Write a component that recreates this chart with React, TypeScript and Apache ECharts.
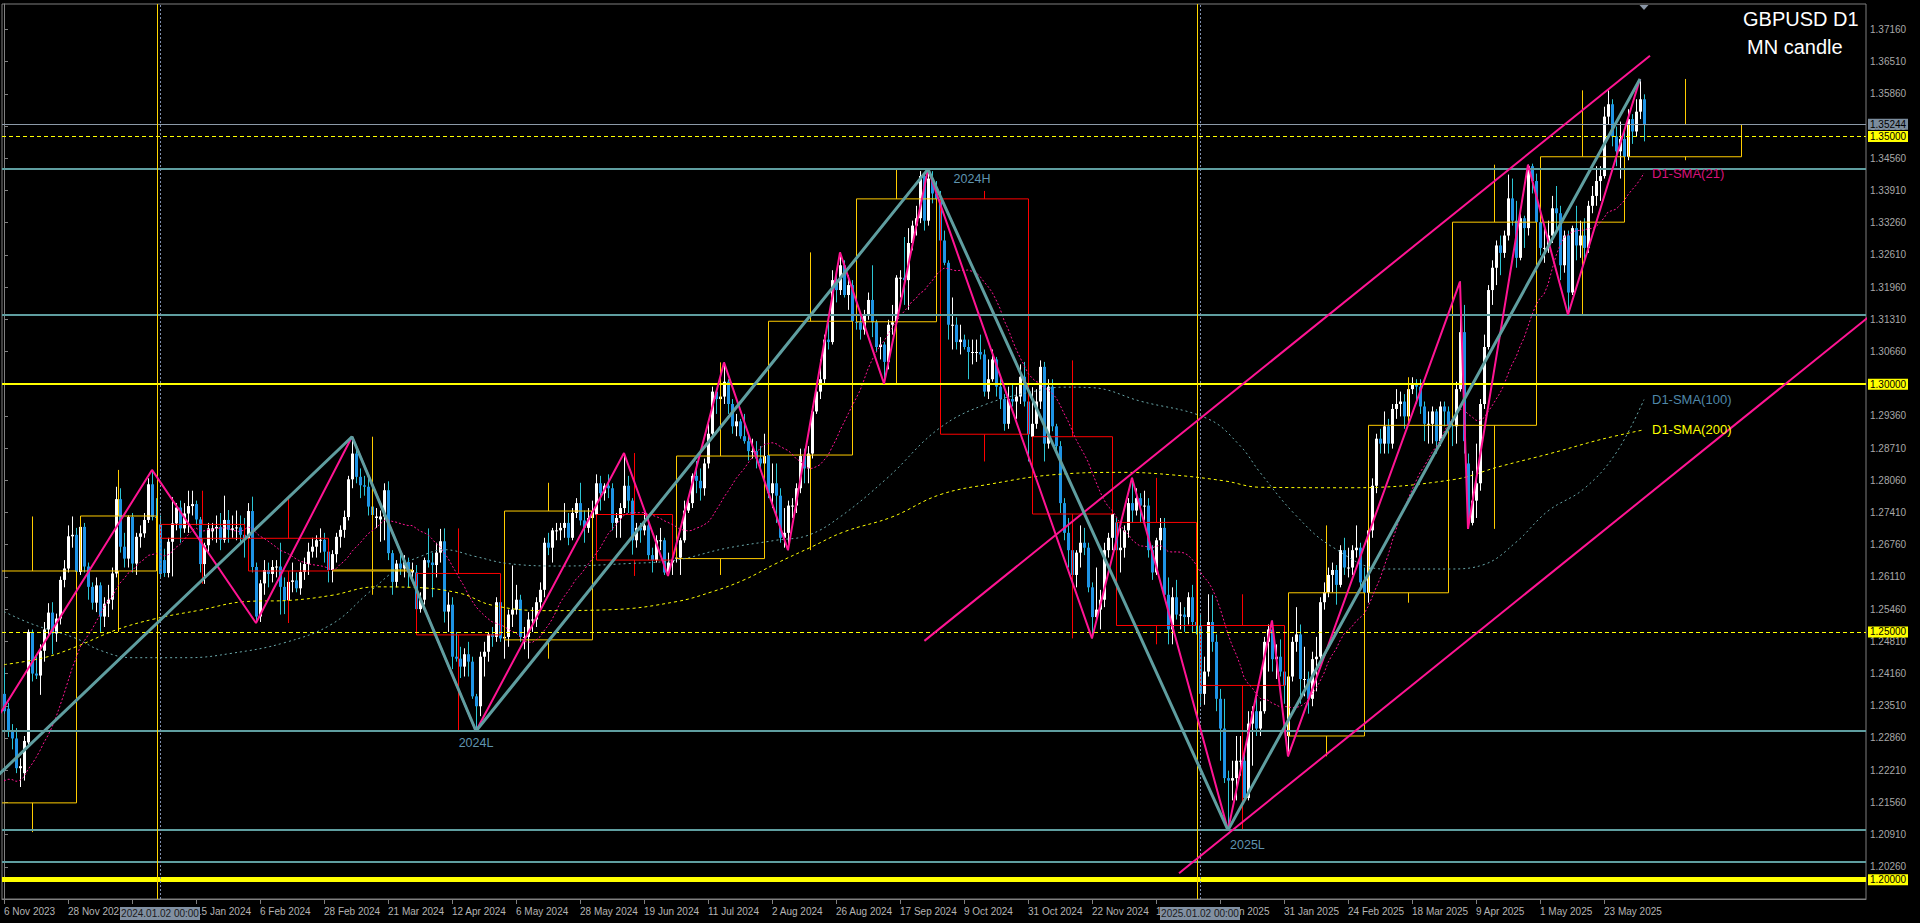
import React, { useEffect, useRef } from "react";
import * as echarts from "echarts";

// ---------------- DATA ----------------
// Daily GBPUSD candles [open, high, low, close], one array per month
const nov23 = [
  [1.2375,1.2428,1.2335,1.2340],[1.2345,1.2357,1.2288,1.2301],[1.2301,1.2314,1.2263,1.2285],[1.2285,1.2306,1.2215,1.2225],
  [1.2225,1.2245,1.2187,1.2229],[1.2215,1.2290,1.2200,1.2280],[1.2277,1.2505,1.2270,1.2500],[1.2500,1.2505,1.2400,1.2416],
  [1.2416,1.2455,1.2405,1.2412],[1.2412,1.2475,1.2373,1.2462],[1.2462,1.2520,1.2440,1.2505],[1.2505,1.2558,1.2490,1.2539],
  [1.2539,1.2560,1.2455,1.2497],[1.2497,1.2537,1.2480,1.2527],[1.2527,1.2612,1.2515,1.2605],[1.2605,1.2645,1.2590,1.2628],
  [1.2628,1.2715,1.2620,1.2693],[1.2693,1.2733,1.2670,1.2696],[1.2696,1.2710,1.2605,1.2621],
];
const dec23 = [
  [1.2621,1.2720,1.2615,1.2712],[1.2712,1.2720,1.2620,1.2632],[1.2632,1.2640,1.2565,1.2591],[1.2591,1.2600,1.2545,1.2559],
  [1.2559,1.2610,1.2540,1.2594],[1.2594,1.2600,1.2500,1.2531],[1.2531,1.2570,1.2510,1.2557],[1.2557,1.2595,1.2530,1.2565],
  [1.2565,1.2630,1.2545,1.2618],[1.2618,1.2793,1.2610,1.2768],[1.2768,1.2790,1.2660,1.2672],[1.2672,1.2700,1.2630,1.2648],
  [1.2648,1.2735,1.2630,1.2732],[1.2732,1.2740,1.2620,1.2638],[1.2638,1.2700,1.2615,1.2692],[1.2692,1.2715,1.2670,1.2699],
  [1.2699,1.2740,1.2690,1.2726],[1.2726,1.2810,1.2720,1.2798],[1.2798,1.2827,1.2725,1.2732],[1.2732,1.2770,1.2700,1.2730],
];
const jan24 = [
  [1.2717,1.2735,1.2610,1.2617],[1.2645,1.2668,1.2611,1.2619],[1.2619,1.2690,1.2610,1.2682],[1.2682,1.2772,1.2612,1.2719],
  [1.2719,1.2760,1.2705,1.2751],[1.2751,1.2765,1.2680,1.2709],[1.2709,1.2760,1.2700,1.2739],[1.2739,1.2785,1.2700,1.2754],
  [1.2754,1.2785,1.2735,1.2758],[1.2758,1.2765,1.2715,1.2727],[1.2727,1.2732,1.2620,1.2637],[1.2637,1.2680,1.2597,1.2675],
  [1.2675,1.2720,1.2660,1.2709],[1.2703,1.2720,1.2685,1.2709],[1.2709,1.2735,1.2680,1.2712],[1.2712,1.2740,1.2665,1.2686],
  [1.2686,1.2775,1.2680,1.2726],[1.2726,1.2746,1.2680,1.2706],[1.2706,1.2735,1.2690,1.2709],[1.2709,1.2745,1.2685,1.2711],
  [1.2711,1.2735,1.2680,1.2696],[1.2696,1.2730,1.2650,1.2689],
];
const feb24 = [
  [1.2689,1.2760,1.2655,1.2744],[1.2744,1.2773,1.2620,1.2631],[1.2631,1.2640,1.2518,1.2531],[1.2531,1.2605,1.2520,1.2598],
  [1.2598,1.2645,1.2575,1.2625],[1.2625,1.2640,1.2590,1.2617],[1.2617,1.2645,1.2600,1.2631],[1.2631,1.2645,1.2610,1.2632],
  [1.2632,1.2680,1.2535,1.2591],[1.2591,1.2610,1.2536,1.2564],[1.2564,1.2612,1.2540,1.2601],[1.2601,1.2640,1.2580,1.2604],
  [1.2604,1.2620,1.2580,1.2588],[1.2588,1.2640,1.2575,1.2621],[1.2621,1.2650,1.2605,1.2637],[1.2637,1.2680,1.2615,1.2662],
  [1.2662,1.2690,1.2650,1.2672],[1.2672,1.2695,1.2650,1.2685],[1.2685,1.2709,1.2660,1.2686],[1.2686,1.2700,1.2640,1.2662],
  [1.2662,1.2680,1.2600,1.2625],
];
const mar24 = [
  [1.2625,1.2665,1.2600,1.2657],[1.2657,1.2700,1.2640,1.2692],[1.2692,1.2715,1.2670,1.2706],[1.2706,1.2745,1.2690,1.2732],
  [1.2732,1.2815,1.2725,1.2808],[1.2808,1.2894,1.2790,1.2860],[1.2860,1.2870,1.2800,1.2813],[1.2813,1.2830,1.2770,1.2796],
  [1.2796,1.2815,1.2775,1.2793],[1.2793,1.2810,1.2735,1.2753],[1.2753,1.2770,1.2720,1.2736],[1.2730,1.2750,1.2710,1.2733],
  [1.2727,1.2745,1.2682,1.2733],[1.2733,1.2800,1.2685,1.2786],[1.2786,1.2804,1.2645,1.2659],[1.2659,1.2665,1.2575,1.2601],
  [1.2601,1.2645,1.2590,1.2638],[1.2638,1.2665,1.2615,1.2628],[1.2628,1.2655,1.2610,1.2641],[1.2641,1.2650,1.2590,1.2620],
  [1.2620,1.2640,1.2605,1.2625],
];
const apr24 = [
  [1.2620,1.2635,1.2540,1.2546],[1.2546,1.2580,1.2539,1.2565],[1.2565,1.2650,1.2555,1.2645],[1.2645,1.2709,1.2630,1.2640],
  [1.2640,1.2660,1.2570,1.2635],[1.2635,1.2680,1.2610,1.2660],[1.2660,1.2708,1.2640,1.2683],[1.2683,1.2709,1.2519,1.2541],
  [1.2541,1.2580,1.2500,1.2555],[1.2555,1.2570,1.2425,1.2450],[1.2450,1.2500,1.2440,1.2446],[1.2446,1.2470,1.2407,1.2430],
  [1.2430,1.2467,1.2410,1.2455],[1.2455,1.2480,1.2410,1.2440],[1.2440,1.2450,1.2365,1.2370],[1.2370,1.2375,1.2300,1.2350],
  [1.2350,1.2460,1.2330,1.2450],[1.2450,1.2480,1.2410,1.2460],[1.2460,1.2500,1.2440,1.2495],[1.2495,1.2510,1.2470,1.2490],
  [1.2490,1.2570,1.2480,1.2560],[1.2560,1.2565,1.2480,1.2487],
];
const may24 = [
  [1.2487,1.2530,1.2446,1.2490],[1.2490,1.2545,1.2470,1.2535],[1.2535,1.2634,1.2510,1.2545],[1.2545,1.2595,1.2535,1.2565],
  [1.2565,1.2575,1.2480,1.2490],[1.2490,1.2510,1.2465,1.2490],[1.2490,1.2540,1.2446,1.2525],[1.2525,1.2550,1.2500,1.2525],
  [1.2525,1.2570,1.2510,1.2560],[1.2560,1.2600,1.2545,1.2585],[1.2585,1.2690,1.2570,1.2680],[1.2680,1.2700,1.2655,1.2670],
  [1.2670,1.2710,1.2640,1.2705],[1.2705,1.2720,1.2685,1.2705],[1.2705,1.2720,1.2685,1.2710],[1.2710,1.2760,1.2690,1.2720],
  [1.2720,1.2740,1.2675,1.2690],[1.2690,1.2750,1.2685,1.2740],[1.2740,1.2770,1.2730,1.2760],[1.2760,1.2801,1.2715,1.2725],
  [1.2725,1.2745,1.2680,1.2710],[1.2710,1.2750,1.2700,1.2730],[1.2730,1.2765,1.2695,1.2744],
];
const jun24 = [
  [1.2737,1.2818,1.2735,1.2800],[1.2800,1.2815,1.2745,1.2780],[1.2780,1.2800,1.2765,1.2795],[1.2795,1.2818,1.2770,1.2790],
  [1.2790,1.2800,1.2705,1.2720],[1.2720,1.2740,1.2690,1.2730],[1.2730,1.2760,1.2690,1.2750],[1.2750,1.2861,1.2740,1.2795],
  [1.2795,1.2815,1.2740,1.2765],[1.2765,1.2770,1.2656,1.2685],[1.2685,1.2720,1.2670,1.2710],[1.2710,1.2720,1.2680,1.2705],
  [1.2705,1.2740,1.2695,1.2715],[1.2715,1.2730,1.2645,1.2655],[1.2655,1.2670,1.2620,1.2645],[1.2645,1.2695,1.2640,1.2685],
  [1.2685,1.2710,1.2665,1.2685],[1.2685,1.2690,1.2615,1.2620],[1.2620,1.2660,1.2613,1.2640],[1.2640,1.2670,1.2615,1.2645],
];
const jul24 = [
  [1.2648,1.2710,1.2640,1.2650],[1.2650,1.2690,1.2615,1.2685],[1.2685,1.2765,1.2680,1.2745],[1.2745,1.2770,1.2740,1.2760],
  [1.2760,1.2820,1.2750,1.2815],[1.2815,1.2845,1.2780,1.2805],[1.2805,1.2830,1.2765,1.2790],[1.2790,1.2850,1.2775,1.2840],
  [1.2840,1.2920,1.2830,1.2900],[1.2900,1.2995,1.2890,1.2985],[1.2985,1.2990,1.2940,1.2970],[1.2970,1.2990,1.2945,1.2975],
  [1.2975,1.3044,1.2960,1.3005],[1.3005,1.3010,1.2940,1.2960],[1.2960,1.2970,1.2900,1.2915],[1.2915,1.2940,1.2895,1.2925],
  [1.2925,1.2930,1.2890,1.2895],[1.2895,1.2940,1.2880,1.2885],[1.2885,1.2900,1.2846,1.2865],[1.2865,1.2890,1.2850,1.2865],
  [1.2865,1.2885,1.2830,1.2850],[1.2850,1.2875,1.2830,1.2840],[1.2840,1.2900,1.2820,1.2855],
];
const aug24 = [
  [1.2857,1.2875,1.2770,1.2780],[1.2780,1.2840,1.2750,1.2800],[1.2800,1.2840,1.2720,1.2775],[1.2775,1.2790,1.2680,1.2690],
  [1.2690,1.2750,1.2670,1.2700],[1.2700,1.2765,1.2665,1.2755],[1.2755,1.2770,1.2730,1.2755],[1.2755,1.2800,1.2740,1.2790],
  [1.2790,1.2870,1.2780,1.2855],[1.2855,1.2870,1.2800,1.2830],[1.2830,1.2875,1.2800,1.2860],[1.2860,1.2955,1.2850,1.2945],
  [1.2945,1.2995,1.2940,1.2985],[1.2985,1.3050,1.2970,1.3010],[1.3010,1.3100,1.3000,1.3090],[1.3090,1.3130,1.3070,1.3085],
  [1.3085,1.3230,1.3080,1.3210],[1.3210,1.3230,1.3165,1.3190],[1.3190,1.3266,1.3180,1.3240],[1.3240,1.3250,1.3175,1.3180],
  [1.3180,1.3220,1.3150,1.3200],[1.3200,1.3210,1.3115,1.3127],
];
const sep24 = [
  [1.3126,1.3150,1.3110,1.3125],[1.3125,1.3140,1.3090,1.3110],[1.3110,1.3150,1.3100,1.3140],[1.3140,1.3185,1.3130,1.3170],
  [1.3170,1.3240,1.3095,1.3125],[1.3125,1.3130,1.3065,1.3075],[1.3075,1.3095,1.3050,1.3080],[1.3080,1.3085,1.3001,1.3045],
  [1.3045,1.3130,1.3030,1.3120],[1.3120,1.3160,1.3100,1.3125],[1.3125,1.3220,1.3120,1.3215],[1.3215,1.3230,1.3175,1.3215],
  [1.3215,1.3297,1.3160,1.3210],[1.3210,1.3315,1.3150,1.3285],[1.3285,1.3330,1.3270,1.3320],[1.3320,1.3360,1.3300,1.3335],
  [1.3335,1.3430,1.3325,1.3420],[1.3420,1.3425,1.3310,1.3330],[1.3330,1.3434,1.3320,1.3415],[1.3415,1.3430,1.3365,1.3385],
  [1.3385,1.3410,1.3350,1.3374],
];
const oct24 = [
  [1.3374,1.3390,1.3270,1.3290],[1.3290,1.3310,1.3240,1.3245],[1.3245,1.3250,1.3090,1.3120],[1.3120,1.3175,1.3070,1.3120],
  [1.3120,1.3135,1.3070,1.3085],[1.3085,1.3120,1.3060,1.3090],[1.3090,1.3100,1.3070,1.3075],[1.3075,1.3090,1.3010,1.3065],
  [1.3065,1.3090,1.3040,1.3065],[1.3065,1.3090,1.3045,1.3065],[1.3065,1.3100,1.3050,1.3060],[1.3060,1.3070,1.2975,1.2985],
  [1.2985,1.3050,1.2970,1.3010],[1.3010,1.3070,1.3005,1.3050],[1.3050,1.3055,1.2975,1.2995],[1.2995,1.3015,1.2950,1.2970],
  [1.2970,1.2980,1.2906,1.2920],[1.2920,1.2995,1.2910,1.2970],[1.2970,1.3000,1.2955,1.2965],[1.2965,1.2995,1.2930,1.2975],
  [1.2975,1.3040,1.2960,1.3015],[1.3015,1.3045,1.2955,1.2965],[1.2965,1.2985,1.2844,1.2899],
];
const nov24 = [
  [1.2894,1.2994,1.2885,1.2920],[1.2920,1.2990,1.2910,1.2965],[1.2965,1.3048,1.2950,1.3035],[1.3035,1.3045,1.2844,1.2880],
  [1.2880,1.3010,1.2870,1.2995],[1.2995,1.3010,1.2905,1.2915],[1.2915,1.2920,1.2860,1.2875],[1.2875,1.2885,1.2740,1.2760],
  [1.2760,1.2770,1.2685,1.2700],[1.2700,1.2730,1.2630,1.2665],[1.2665,1.2715,1.2595,1.2615],[1.2615,1.2665,1.2590,1.2660],
  [1.2660,1.2715,1.2630,1.2680],[1.2680,1.2710,1.2655,1.2670],[1.2670,1.2680,1.2580,1.2590],[1.2590,1.2600,1.2487,1.2530],
  [1.2530,1.2630,1.2525,1.2545],[1.2545,1.2585,1.2505,1.2565],[1.2565,1.2680,1.2550,1.2665],[1.2665,1.2700,1.2650,1.2690],
  [1.2690,1.2750,1.2665,1.2738],
];
const dec24 = [
  [1.2721,1.2730,1.2615,1.2665],[1.2665,1.2710,1.2620,1.2670],[1.2670,1.2715,1.2650,1.2705],[1.2705,1.2770,1.2690,1.2760],
  [1.2760,1.2811,1.2720,1.2745],[1.2745,1.2790,1.2735,1.2770],[1.2770,1.2780,1.2720,1.2755],[1.2755,1.2785,1.2725,1.2755],
  [1.2755,1.2770,1.2650,1.2665],[1.2665,1.2675,1.2605,1.2620],[1.2620,1.2690,1.2615,1.2685],[1.2685,1.2730,1.2665,1.2710],
  [1.2710,1.2730,1.2570,1.2575],[1.2575,1.2610,1.2475,1.2505],[1.2505,1.2590,1.2475,1.2570],[1.2570,1.2605,1.2525,1.2535],
  [1.2535,1.2560,1.2505,1.2535],[1.2535,1.2550,1.2500,1.2530],[1.2530,1.2580,1.2515,1.2570],[1.2570,1.2595,1.2500,1.2520],
  [1.2520,1.2560,1.2495,1.2513],
];
const jan25 = [
  [1.2513,1.2537,1.2352,1.2375],[1.2375,1.2450,1.2353,1.2420],[1.2420,1.2576,1.2410,1.2520],[1.2520,1.2575,1.2460,1.2480],
  [1.2480,1.2495,1.2340,1.2365],[1.2365,1.2385,1.2240,1.2305],[1.2305,1.2365,1.2195,1.2205],[1.2205,1.2220,1.2100,1.2200],
  [1.2200,1.2240,1.2160,1.2205],[1.2205,1.2290,1.2160,1.2240],[1.2240,1.2290,1.2210,1.2240],[1.2240,1.2255,1.2160,1.2165],
  [1.2165,1.2340,1.2160,1.2315],[1.2315,1.2350,1.2230,1.2340],[1.2340,1.2375,1.2290,1.2305],[1.2305,1.2360,1.2290,1.2340],
  [1.2340,1.2490,1.2335,1.2480],[1.2480,1.2515,1.2420,1.2505],[1.2505,1.2523,1.2420,1.2445],[1.2445,1.2475,1.2405,1.2450],
  [1.2450,1.2485,1.2410,1.2420],[1.2420,1.2450,1.2355,1.2392],
];
const feb25 = [
  [1.2290,1.2420,1.2249,1.2410],[1.2410,1.2490,1.2400,1.2480],[1.2480,1.2550,1.2460,1.2495],[1.2495,1.2515,1.2355,1.2405],
  [1.2405,1.2470,1.2370,1.2405],[1.2405,1.2420,1.2335,1.2365],[1.2365,1.2460,1.2350,1.2445],[1.2445,1.2490,1.2380,1.2450],
  [1.2450,1.2570,1.2440,1.2560],[1.2560,1.2600,1.2545,1.2580],[1.2580,1.2630,1.2570,1.2615],[1.2615,1.2640,1.2580,1.2625],
  [1.2625,1.2635,1.2555,1.2595],[1.2595,1.2675,1.2590,1.2665],[1.2665,1.2690,1.2615,1.2630],[1.2630,1.2670,1.2610,1.2630],
  [1.2630,1.2675,1.2615,1.2665],[1.2665,1.2715,1.2650,1.2670],[1.2670,1.2680,1.2590,1.2600],[1.2600,1.2630,1.2560,1.2579],
];
const mar25 = [
  [1.2579,1.2715,1.2559,1.2705],[1.2705,1.2810,1.2690,1.2795],[1.2795,1.2900,1.2780,1.2890],[1.2890,1.2910,1.2860,1.2880],
  [1.2880,1.2945,1.2860,1.2915],[1.2915,1.2930,1.2860,1.2880],[1.2880,1.2960,1.2870,1.2950],[1.2950,1.2990,1.2930,1.2960],
  [1.2960,1.2985,1.2935,1.2965],[1.2965,1.2980,1.2910,1.2935],[1.2935,1.3000,1.2930,1.2990],[1.2990,1.3014,1.2980,1.3000],
  [1.3000,1.3010,1.2960,1.2995],[1.2995,1.3010,1.2940,1.2955],[1.2955,1.2965,1.2885,1.2920],[1.2920,1.2945,1.2880,1.2920],
  [1.2920,1.2955,1.2880,1.2945],[1.2945,1.2950,1.2860,1.2885],[1.2885,1.2965,1.2875,1.2955],[1.2955,1.2965,1.2915,1.2945],
  [1.2945,1.2955,1.2880,1.2917],
];
const apr25 = [
  [1.2917,1.2940,1.2875,1.2915],[1.2915,1.3005,1.2880,1.2990],[1.2990,1.3207,1.2985,1.3105],[1.3105,1.3160,1.2860,1.2885],
  [1.2840,1.2860,1.2708,1.2720],[1.2720,1.2825,1.2715,1.2765],[1.2765,1.2880,1.2730,1.2800],[1.2800,1.2970,1.2785,1.2960],
  [1.2960,1.3100,1.2950,1.3075],[1.3075,1.3200,1.3070,1.3190],[1.3190,1.3250,1.3160,1.3235],[1.3235,1.3290,1.3200,1.3280],
  [1.3280,1.3300,1.3220,1.3265],[1.3265,1.3310,1.3255,1.3300],[1.3300,1.3423,1.3290,1.3375],[1.3375,1.3415,1.3320,1.3330],
  [1.3330,1.3370,1.3235,1.3255],[1.3255,1.3345,1.3250,1.3335],[1.3335,1.3340,1.3275,1.3315],[1.3315,1.3443,1.3300,1.3440],
  [1.3440,1.3445,1.3385,1.3410],[1.3410,1.3425,1.3315,1.3327],
];
const may25 = [
  [1.3327,1.3335,1.3260,1.3275],[1.3275,1.3320,1.3245,1.3275],[1.3275,1.3330,1.3265,1.3300],[1.3300,1.3380,1.3285,1.3355],
  [1.3355,1.3400,1.3310,1.3345],[1.3345,1.3360,1.3210,1.3240],[1.3240,1.3310,1.3225,1.3300],[1.3300,1.3310,1.3140,1.3185],
  [1.3185,1.3320,1.3180,1.3315],[1.3315,1.3360,1.3250,1.3280],[1.3280,1.3330,1.3255,1.3300],[1.3300,1.3335,1.3250,1.3275],
  [1.3275,1.3370,1.3265,1.3360],[1.3360,1.3400,1.3345,1.3380],[1.3380,1.3440,1.3360,1.3410],[1.3410,1.3440,1.3370,1.3420],
  [1.3420,1.3560,1.3415,1.3540],[1.3540,1.3593,1.3525,1.3565],[1.3565,1.3575,1.3480,1.3500],[1.3500,1.3520,1.3440,1.3470],
  [1.3470,1.3530,1.3415,1.3495],[1.3495,1.3510,1.3440,1.3459],
];
const jun25 = [
  [1.3459,1.3555,1.3452,1.3535],[1.3535,1.3545,1.3485,1.3510],[1.3510,1.3575,1.3500,1.3550],[1.3550,1.3616,1.3535,1.3575],
  [1.3575,1.3585,1.3490,1.3524],
];

// closes of the 20 sessions before the first visible bar (for the 21-period SMA)
const priorCloses = [1.2235,1.2295,1.2305,1.2180,1.2135,1.2190,1.2185,1.2140,1.2160,1.2160,
  1.2245,1.2150,1.2095,1.2125,1.2125,1.2160,1.2155,1.2190,1.2240,1.2380];

// Monthly (MN) candles drawn as boxes over the daily bars
const monthStart = [-4, 19, 39, 61, 82, 103, 125, 148, 168, 191, 213, 234, 257, 278, 299, 321, 341, 362, 384, 406];
const monthEnd   = [18, 38, 60, 81, 102, 124, 147, 167, 190, 212, 233, 256, 277, 298, 320, 340, 361, 383, 405, 434.25];
const monthOpen  = [1.2155,1.2623,1.2717,1.2689,1.2623,1.2618,1.2484,1.2737,1.2648,1.2857,1.3126,1.3374,1.2894,1.2721,1.2513,1.2290,1.2579,1.2917,1.3327,1.3459];
const monthHigh  = [1.2733,1.2827,1.2785,1.2773,1.2894,1.2709,1.2801,1.2861,1.3044,1.3266,1.3434,1.3390,1.3048,1.2811,1.2576,1.2715,1.3014,1.3443,1.3593,1.3616];
const monthLow   = [1.2096,1.2500,1.2597,1.2518,1.2575,1.2300,1.2446,1.2613,1.2615,1.2665,1.3001,1.2844,1.2487,1.2475,1.2100,1.2249,1.2559,1.2708,1.3140,1.3452];
const monthClose = [1.2623,1.2734,1.2689,1.2623,1.2625,1.2494,1.2744,1.2645,1.2855,1.3127,1.3374,1.2899,1.2738,1.2513,1.2392,1.2579,1.2917,1.3327,1.3459,1.3524];

// Zigzags (bar index, price)
const pinkZigIdx   = [-24, 37, 63, 87, 118, 155, 166, 180, 196, 209, 220, 231, 272, 282, 306, 317, 321, 364, 366, 381, 391, 409];
const pinkZigPrice = [1.2037,1.2827,1.2518,1.2894,1.2300,1.2861,1.2613,1.3044,1.2665,1.3266,1.3001,1.3434,1.2487,1.2811,1.2100,1.2523,1.2249,1.3207,1.2708,1.3443,1.3140,1.3616];
const tealZigIdx   = [-24, 87, 118, 231, 306, 409];
const tealZigPrice = [1.2037, 1.2894, 1.2300, 1.3434, 1.2100, 1.3616];

// Channel lines
const upperChannel = [[230.1, 1.2482], [411.5, 1.3663]];
const lowerChannel = [[293.75, 1.2013], [480, 1.3226]];

// Moving averages (SMA100 / SMA200)
const sma100Idx = [0,7,18,24,32,46,57,70,82,91,99,104,110,118,126,139,156,168,180,193,201,209,221,234,246,259,265,272,284,301,309,314,323,332,345,361,370,378,386,395,403,410];
const sma100Val = [1.2541,1.2516,1.2487,1.2463,1.2448,1.2448,1.2457,1.2478,1.2516,1.2578,1.2632,1.2652,1.2666,1.2652,1.2638,1.2633,1.2638,1.2645,1.2668,1.2685,1.2695,1.2732,1.2812,1.2912,1.2961,1.2988,1.2994,1.2993,1.2966,1.2930,1.2876,1.2822,1.2735,1.2672,1.2627,1.2627,1.2636,1.2681,1.2744,1.2789,1.2861,1.2969];
const sma200Idx = [0,10,18,28,38,49,60,72,82,93,102,114,122,135,152,168,177,185,193,202,210,222,234,247,262,280,292,305,314,337,362,374,387,399,410];
const sma200Val = [1.2434,1.2448,1.2470,1.2504,1.2527,1.2544,1.2561,1.2564,1.2574,1.2591,1.2590,1.2578,1.2554,1.2543,1.2545,1.2561,1.2581,1.2605,1.2638,1.2672,1.2702,1.2732,1.2777,1.2799,1.2817,1.2822,1.2817,1.2805,1.2792,1.2791,1.2807,1.2834,1.2861,1.2888,1.2908];

// Horizontal levels
const tealLevels = [1.3434, 1.3140, 1.2300, 1.2100, 1.2037];
const yellowDashedLevels = [1.35, 1.25];
const roundLevel = 1.30;
const majorLevel = 1.20;
const currentPrice = 1.35244;

// Year separators
const yearEndIdx = [38.2, 298.2];
const yearStartIdx = [39, 299];
const yearStartText = ["2024.01.02 00:00", "2025.01.02 00:00"];

// Time axis labels (every 16 bars)
const dateLabels = ["6 Nov 2023","28 Nov 2023","20 Dec 2023","15 Jan 2024","6 Feb 2024","28 Feb 2024","21 Mar 2024",
  "12 Apr 2024","6 May 2024","28 May 2024","19 Jun 2024","11 Jul 2024","2 Aug 2024","26 Aug 2024","17 Sep 2024",
  "9 Oct 2024","31 Oct 2024","22 Nov 2024","16 Dec 2024","9 Jan 2025","31 Jan 2025","24 Feb 2025","18 Mar 2025",
  "9 Apr 2025","1 May 2025","23 May 2025"];

// Text annotations (bar index, price)
const pivotLabels = [
  { text: "2024H", idx: 242, price: 1.34139 },
  { text: "2024L", idx: 118, price: 1.22756 },
  { text: "2025L", idx: 310.85, price: 1.20692 },
];
const smaLabels = [
  { text: "D1-SMA(21)", idx: 412, price: 1.3425, color: "#d8127a" },
  { text: "D1-SMA(100)", idx: 412, price: 1.29699, color: "#4f87a8" },
  { text: "D1-SMA(200)", idx: 412, price: 1.29093, color: "#ffff00" },
];

// ---------------- LAYOUT / STYLE ----------------
const FONT = "'Liberation Sans', Arial, sans-serif";
const TOTAL_SLOTS = 466;
const LABEL_STEP = 16;
const GRID_LEFT = 2;
const GRID_TOP = 4;
const GRID_W = 1864;
const GRID_H = 895;
const Y_MIN = 1.1961;
const Y_MAX = 1.37673;
const Y_STEP = 0.0065;
const PINK = "#ff1493";
const TEAL = "#5f9ea0";
const GOLD = "#ffcc00";
const RED = "#ff0000";
const YELLOW = "#ffff00";

const dailyOHLC = [...nov23, ...dec23, ...jan24, ...feb24, ...mar24, ...apr24, ...may24, ...jun24, ...jul24, ...aug24,
  ...sep24, ...oct24, ...nov24, ...dec24, ...jan25, ...feb25, ...mar25, ...apr25, ...may25, ...jun25];

const categories = Array.from({ length: TOTAL_SLOTS }, (_, i) =>
  i % LABEL_STEP === 0 && i / LABEL_STEP < dateLabels.length ? dateLabels[i / LABEL_STEP] : "b" + i);
const showTick = (index: number) => index % LABEL_STEP === 0 && index / LABEL_STEP < dateLabels.length;

const allCloses = [...priorCloses, ...dailyOHLC.map((r) => r[3])];
const sma21 = dailyOHLC.map((_, i) => {
  let s = 0;
  for (let k = 0; k < 21; k++) s += allCloses[i + priorCloses.length - k];
  return +(s / 21).toFixed(5);
});

function textStyle(text: string, fill: string, size: number, align: string, vAlign: string) {
  return {
    text, fill,
    font: size + "px " + FONT,
    fontSize: size,
    fontFamily: FONT,
    align, textAlign: align,
    verticalAlign: vAlign, textVerticalAlign: vAlign,
  };
}

function buildOption(): any {
  const candleData = dailyOHLC.map((r, i) => [i, r[0], r[1], r[2], r[3]]);
  const mnData = monthStart.map((s, k) => [s, monthEnd[k], monthOpen[k], monthHigh[k], monthLow[k], monthClose[k]]);

  const markLines: any[] = [];
  tealLevels.forEach((p) => markLines.push({ yAxis: p, lineStyle: { color: TEAL, width: 2, type: "solid" } }));
  markLines.push({ yAxis: currentPrice, lineStyle: { color: "#8c9aa8", width: 1, type: "solid" } });
  yellowDashedLevels.forEach((p) => markLines.push({ yAxis: p, lineStyle: { color: YELLOW, width: 1, type: [4, 3] } }));
  markLines.push({ yAxis: roundLevel, lineStyle: { color: YELLOW, width: 2, type: "solid" } });
  markLines.push({ yAxis: majorLevel, lineStyle: { color: YELLOW, width: 5, type: "solid" } });
  yearEndIdx.forEach((x) => markLines.push({ xAxis: x, lineStyle: { color: "#ffd700", width: 1, type: "solid" } }));
  yearStartIdx.forEach((x) => markLines.push({ xAxis: x, lineStyle: { color: "#8090b0", width: 1, type: [2, 2] } }));

  return {
    animation: false,
    backgroundColor: "#000000",
    tooltip: { show: false },
    grid: {
      left: GRID_LEFT, top: GRID_TOP, width: GRID_W, height: GRID_H,
      show: true, borderColor: "#7f7f7f", borderWidth: 1, backgroundColor: "transparent",
      outerBoundsMode: "none",
    },
    xAxis: [
      {
        type: "category", data: categories, boundaryGap: true, gridIndex: 0,
        axisLine: { show: true, lineStyle: { color: "#808080" } },
        axisTick: { show: true, interval: showTick, alignWithLabel: true, length: 5, lineStyle: { color: "#808080" } },
        axisLabel: { show: true, interval: showTick, align: "left", margin: 7, color: "#b4b4b4", fontSize: 10, fontFamily: FONT },
        splitLine: { show: false },
      },
      { type: "value", gridIndex: 0, min: -0.5, max: TOTAL_SLOTS - 0.5, show: false, splitLine: { show: false } },
    ],
    yAxis: [
      {
        type: "value", position: "right", min: Y_MIN, max: Y_MAX, interval: Y_STEP,
        axisLine: { show: true, lineStyle: { color: "#808080" } },
        axisTick: { show: true, length: 4, lineStyle: { color: "#808080" } },
        axisLabel: { margin: 4, color: "#a8a8a8", fontSize: 10, fontFamily: FONT, showMinLabel: false, showMaxLabel: false,
          formatter: (v: number) => v.toFixed(5) },
        splitLine: { show: false },
      },
    ],
    series: [
      {
        name: "candles", type: "custom", xAxisIndex: 0, yAxisIndex: 0, z: 2, clip: true, silent: true,
        data: candleData,
        encode: { x: 0, y: [1, 2, 3, 4] },
        renderItem: (_p: any, api: any) => {
          const i = api.value(0), o = api.value(1), h = api.value(2), l = api.value(3), c = api.value(4);
          const pO = api.coord([i, o]);
          const pC = api.coord([i, c]);
          const pH = api.coord([i, h]);
          const pL = api.coord([i, l]);
          const x = Math.round(pO[0]);
          const bull = c >= o;
          const top = Math.min(pO[1], pC[1]);
          const bot = Math.max(pO[1], pC[1]);
          return {
            type: "group",
            children: [
              { type: "line", shape: { x1: x + 0.5, y1: pH[1], x2: x + 0.5, y2: pL[1] },
                style: { stroke: bull ? "#ffffff" : "#2cc6d4", lineWidth: 1 } },
              { type: "rect", shape: { x: x - 1, y: top, width: 3, height: Math.max(1, bot - top) },
                style: { fill: bull ? "#ffffff" : "#1e94e6" } },
            ],
          };
        },
      },
      {
        name: "MN", type: "custom", xAxisIndex: 1, yAxisIndex: 0, z: 3, clip: true, silent: true,
        data: mnData,
        encode: { x: [0, 1], y: [2, 3, 4, 5] },
        renderItem: (_p: any, api: any) => {
          const s = api.value(0), e = api.value(1), o = api.value(2), h = api.value(3), l = api.value(4), c = api.value(5);
          const m = (s + e) / 2;
          const a = api.coord([s, o]);
          const b = api.coord([e, c]);
          const mh = api.coord([m, h]);
          const ml = api.coord([m, l]);
          const color = c >= o ? GOLD : RED;
          const x0 = Math.round(a[0]) + 0.5;
          const x1 = Math.round(b[0]) + 0.5;
          const xm = Math.round(mh[0]) + 0.5;
          const top = Math.min(a[1], b[1]);
          const bot = Math.max(a[1], b[1]);
          return {
            type: "group",
            children: [
              { type: "rect", shape: { x: x0, y: top, width: x1 - x0, height: Math.max(0.5, bot - top) },
                style: { fill: "none", stroke: color, lineWidth: 1 } },
              { type: "line", shape: { x1: xm, y1: mh[1], x2: xm, y2: top }, style: { stroke: color, lineWidth: 1 } },
              { type: "line", shape: { x1: xm, y1: bot, x2: xm, y2: ml[1] }, style: { stroke: color, lineWidth: 1 } },
            ],
          };
        },
      },
      {
        name: "SMA21", type: "line", xAxisIndex: 0, yAxisIndex: 0, z: 4, silent: true, symbol: "none",
        data: sma21, lineStyle: { color: PINK, width: 1, type: [2, 2] },
      },
      {
        name: "SMA100", type: "line", xAxisIndex: 1, yAxisIndex: 0, z: 4, silent: true, symbol: "none", smooth: 0.4,
        data: sma100Idx.map((x, k) => [x, sma100Val[k]]), lineStyle: { color: "#6aa9ab", width: 1, type: [2, 3] },
      },
      {
        name: "SMA200", type: "line", xAxisIndex: 1, yAxisIndex: 0, z: 4, silent: true, symbol: "none", smooth: 0.4,
        data: sma200Idx.map((x, k) => [x, sma200Val[k]]), lineStyle: { color: YELLOW, width: 1, type: [3, 3] },
      },
      {
        name: "levels", type: "line", xAxisIndex: 1, yAxisIndex: 0, z: 5, silent: true, symbol: "none",
        data: [[-100, 1.3]], lineStyle: { opacity: 0 },
        markLine: { silent: true, precision: 6, symbol: ["none", "none"], label: { show: false }, animation: false, data: markLines },
      },
      {
        name: "pinkZig", type: "line", xAxisIndex: 1, yAxisIndex: 0, z: 6, silent: true, symbol: "none", clip: true,
        data: pinkZigIdx.map((x, k) => [x, pinkZigPrice[k]]), lineStyle: { color: PINK, width: 2 },
      },
      {
        name: "tealZig", type: "line", xAxisIndex: 1, yAxisIndex: 0, z: 7, silent: true, symbol: "none", clip: true,
        data: tealZigIdx.map((x, k) => [x, tealZigPrice[k]]), lineStyle: { color: TEAL, width: 3 },
      },
      {
        name: "upper", type: "line", xAxisIndex: 1, yAxisIndex: 0, z: 6, silent: true, symbol: "none", clip: true,
        data: upperChannel, lineStyle: { color: PINK, width: 2 },
      },
      {
        name: "lower", type: "line", xAxisIndex: 1, yAxisIndex: 0, z: 6, silent: true, symbol: "none", clip: true,
        data: lowerChannel, lineStyle: { color: PINK, width: 2 },
      },
    ],
  };
}

export default function App() {
  const ref = useRef<HTMLDivElement>(null);
  useEffect(() => {
    if (!ref.current) return;
    document.body.style.margin = "0";
    document.body.style.background = "#000000";
    const chart = echarts.init(ref.current, null, { renderer: "svg", width: 1920, height: 923 });
    chart.setOption(buildOption());

    const xOf = (i: number) => chart.convertToPixel({ xAxisIndex: 1 } as any, i) as unknown as number;
    const yOf = (p: number) => chart.convertToPixel({ yAxisIndex: 0 } as any, p) as unknown as number;
    const gridRight = xOf(TOTAL_SLOTS - 0.5);
    const gridBottom = yOf(Y_MIN);
    const gridTop = yOf(Y_MAX);

    const els: any[] = [];
    // price tags on the right axis
    const tags = [
      { p: currentPrice, bg: "#7b8c9d" },
      { p: yellowDashedLevels[0], bg: YELLOW },
      { p: roundLevel, bg: YELLOW },
      { p: yellowDashedLevels[1], bg: YELLOW },
      { p: majorLevel, bg: YELLOW },
    ];
    tags.forEach((t) => {
      const y = yOf(t.p);
      els.push({ type: "rect", z: 100, shape: { x: gridRight + 2, y: y - 5.5, width: 40, height: 11 }, style: { fill: t.bg } });
      els.push({ type: "text", z: 101, x: gridRight + 4, y: y, style: textStyle(t.p.toFixed(5), "#000000", 10, "left", "middle") });
    });
    // date tags on the time axis
    yearStartIdx.forEach((idx, k) => {
      const cx = xOf(idx);
      els.push({ type: "rect", z: 100, shape: { x: cx - 40, y: gridBottom + 8, width: 80, height: 13 }, style: { fill: "#8190a2" } });
      els.push({ type: "text", z: 101, x: cx, y: gridBottom + 14.5, style: textStyle(yearStartText[k], "#1a1a1a", 10, "center", "middle") });
    });
    // pivot labels
    pivotLabels.forEach((l) => {
      els.push({ type: "text", z: 50, x: xOf(l.idx), y: yOf(l.price), style: textStyle(l.text, "#5f94b0", 12.5, "center", "middle") });
    });
    smaLabels.forEach((l) => {
      els.push({ type: "text", z: 50, x: xOf(l.idx), y: yOf(l.price), style: textStyle(l.text, l.color, 13, "left", "middle") });
    });
    // title
    els.push({ type: "text", z: 50, x: 1743, y: 19.2, style: textStyle("GBPUSD D1", "#ffffff", 20, "left", "middle") });
    els.push({ type: "text", z: 50, x: 1747, y: 47, style: textStyle("MN candle", "#ffffff", 20, "left", "middle") });
    // chart shift marker
    const sx = xOf(dailyOHLC.length - 1);
    els.push({ type: "polygon", z: 50, shape: { points: [[sx - 4.5, gridTop + 1], [sx + 4.5, gridTop + 1], [sx, gridTop + 6]] },
      style: { fill: "#8a96a6" } });

    chart.setOption({ graphic: { elements: els } });
    return () => chart.dispose();
  }, []);

  return <div ref={ref} style={{ width: 1920, height: 923, background: "#000000" }} />;
}
